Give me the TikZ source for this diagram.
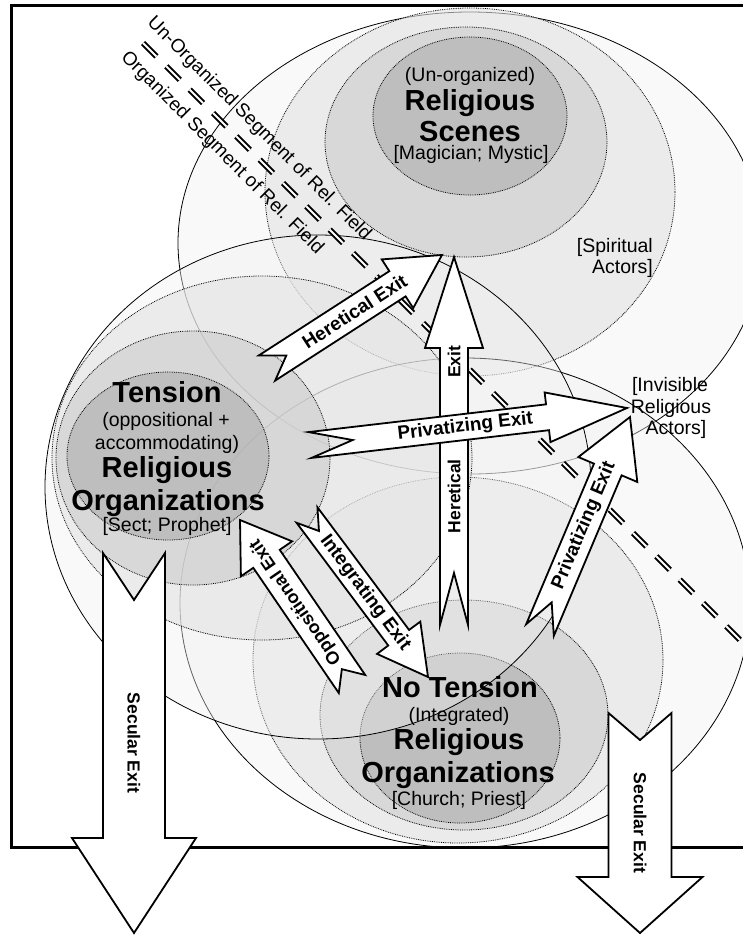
\documentclass[tikz,border=0pt]{standalone}
\usepackage{fontspec}
\setmainfont{Liberation Sans}
\usetikzlibrary{calc}
\tikzset{
  ringout/.style={draw=black, line width=0.8pt, fill=black!6, fill opacity=0.4},
  ringthree/.style={draw=black, line width=0.8pt, densely dotted, fill=black!11, fill opacity=0.6},
  ringtwo/.style={draw=black, line width=0.8pt, densely dotted, fill=black!20, fill opacity=0.6},
  ringone/.style={draw=black, line width=0.8pt, densely dotted, fill=black!32, fill opacity=0.6},
  barrow/.style={draw=black, fill=white, line width=1.8pt, line join=miter},
  lab/.style={font=\bfseries\fontsize{19}{21}\selectfont, sloped, allow upside down, inner sep=0pt},
  labv/.style={lab, font=\bfseries\fontsize{17.5}{19}\selectfont},
  bigt/.style={font=\bfseries\fontsize{29}{32}\selectfont, anchor=base, inner sep=0pt},
  smallt/.style={font=\fontsize{19.5}{22}\selectfont, anchor=base, inner sep=0pt},
  diagt/.style={font=\fontsize{19}{21}\selectfont, rotate=-45, inner sep=0pt},
  dashblack/.style={line width=6pt, dash pattern=on 19pt off 14pt},
  dashwhite/.style={draw=white, line width=2pt, dash pattern=on 19pt off 14pt},
  framebox/.style={draw=black, line width=3pt}
}
\newcommand{\blockarrow}[6]{%
  \coordinate (nb) at ($(#2)!#5!(#1)$);
  \draw[barrow] ($(#1)!#3!90:(#2)$) -- ($(nb)!#3!-90:(#1)$) -- ($(nb)!#4!-90:(#1)$) -- (#2)
    -- ($(nb)!#4!90:(#1)$) -- ($(nb)!#3!90:(#1)$) -- ($(#1)!#3!-90:(#2)$) -- ($(#1)!#6!(#2)$) -- cycle;}
\begin{document}
\begin{tikzpicture}[x=1pt,y=-1pt]
\useasboundingbox (0,0) rectangle (743,938);
\clip (0,0) rectangle (743,938);
% top cluster (scenes)
\draw[ringout]   (470,243) ellipse [x radius=292pt, y radius=231pt];
\draw[ringthree] (470,192) ellipse [x radius=205pt, y radius=184pt];
\draw[ringtwo]   (466,142) ellipse [x radius=141pt, y radius=115pt];
\draw[ringone]   (470,116) ellipse [x radius=97pt, y radius=79pt];
% bottom cluster (no tension)
\draw[ringout]   (465,603) ellipse [x radius=285pt, y radius=245pt];
\draw[ringthree] (458,660) ellipse [x radius=205pt, y radius=183pt];
\draw[ringtwo]   (464,715) ellipse [x radius=144pt, y radius=115pt];
\draw[ringone]   (460,738) ellipse [x radius=100pt, y radius=85pt];
% left cluster (tension)
\draw[ringout]   (318,487) ellipse [x radius=273pt, y radius=252pt];
\draw[ringthree] (262,458) ellipse [x radius=210pt, y radius=182pt];
\draw[ringtwo]   (193,458) ellipse [x radius=137pt, y radius=127pt];
\draw[ringone]   (168,456) ellipse [x radius=101pt, y radius=84pt];
% frame
\draw[framebox] (11,5) rectangle (770,847);
% segment divider
\coordinate (dl1) at (143,43);
\coordinate (dl2) at (775,675);
\draw[dashblack] (dl1) -- (dl2);
\draw[dashwhite] (dl1) -- (dl2);
\node[diagt] (unorg) at (259,129) {Un-Organized Segment of Rel. Field};
\node[diagt] (org) at (222,153) {Organized Segment of Rel. Field};
% cluster texts
\node[smallt] (s1) at (470,81) {(Un-organized)};
\node[bigt] (s2) at (470,110) {Religious};
\node[bigt] (s3) at (470,141) {Scenes};
\node[smallt] (s4) at (471,159) {[Magician; Mystic]};
\node[bigt] (t1) at (167,402) {Tension};
\node[smallt] (t2) at (166,426) {(oppositional +};
\node[smallt] (t3) at (167,449) {accommodating)};
\node[bigt] (t4) at (167,477) {Religious};
\node[bigt] (t5) at (168,510) {Organizations};
\node[smallt] (t6) at (167,531) {[Sect; Prophet]};
\node[bigt] (n1) at (460,697) {No Tension};
\node[smallt] (n2) at (459,721) {(Integrated)};
\node[bigt] (n3) at (459,749) {Religious};
\node[bigt] (n4) at (458,782) {Organizations};
\node[smallt] (n5) at (459,805) {[Church; Priest]};
\node[smallt, anchor=base east] (sp1) at (653,252) {[Spiritual};
\node[smallt, anchor=base east] (sp2) at (653,273) {Actors]};
\node[smallt] (iv1) at (670,391) {[Invisible};
\node[smallt] (iv2) at (671,413) {Religious};
\node[smallt] (iv3) at (676,434) {Actors]};
% arrows
\coordinate (hvT) at (454,625); \coordinate (hvH) at (454,257);
\blockarrow{hvT}{hvH}{14pt}{29pt}{91pt}{52pt}
\path (hvT) -- (hvH) node[labv, pos=0.35] (lhv1) {Heretical} node[labv, pos=0.715] (lhv2) {Exit};
\coordinate (hdT) at (267,368); \coordinate (hdH) at (442,255);
\blockarrow{hdT}{hdH}{15pt}{29pt}{53pt}{23pt}
\path (hdT) -- (hdH) node[lab, pos=0.5] (lhd) {Heretical Exit};
\coordinate (pdT) at (540,630); \coordinate (pdH) at (630,417);
\blockarrow{pdT}{pdH}{15pt}{32pt}{57pt}{30pt}
\path (pdT) -- (pdH) node[lab, pos=0.49] (lpd) {Privatizing Exit};
\coordinate (phT) at (310,445); \coordinate (phH) at (627,408);
\blockarrow{phT}{phH}{13pt}{25pt}{80pt}{43pt}
\path (phT) -- (phH) node[lab, pos=0.49] (lph) {Privatizing Exit};
\coordinate (opT) at (352,684); \coordinate (opH) at (240,520);
\blockarrow{opT}{opH}{16pt}{31pt}{47pt}{18pt}
\path (opT) -- (opH) node[lab, pos=0.5, font=\bfseries\fontsize{18}{20}\selectfont] (lop) {Oppositional Exit};
\coordinate (inT) at (307,515); \coordinate (inH) at (428,677);
\blockarrow{inT}{inH}{13pt}{27pt}{49pt}{20pt}
\path (inT) -- (inH) node[lab, pos=0.48] (lin) {Integrating Exit};
\coordinate (slT) at (134,553); \coordinate (slH) at (134,933);
\blockarrow{slT}{slH}{31pt}{62pt}{95pt}{47pt}
\path (slT) -- (slH) node[labv, pos=0.5] (lsl) {Secular Exit};
\coordinate (srT) at (640,713); \coordinate (srH) at (640,933);
\blockarrow{srT}{srH}{31.5pt}{62.5pt}{56pt}{27pt}
\path (srT) -- (srH) node[labv, pos=0.5] (lsr) {Secular Exit};
\end{tikzpicture}
\end{document}
